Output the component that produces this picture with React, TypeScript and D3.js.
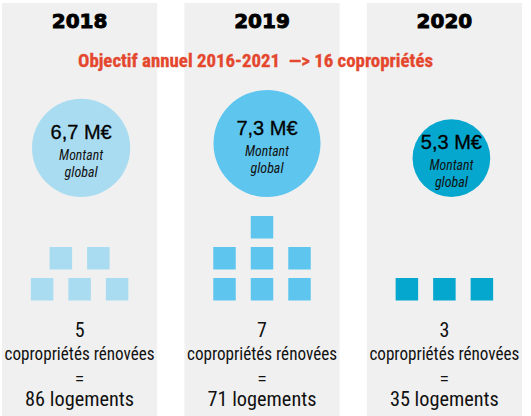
import * as d3 from 'd3';
import React from 'react';

// Chart data
const years = ['2018', '2019', '2020'];
const montants = [6.7, 7.3, 5.3]; // M€
const coproprietes = [5, 7, 3];
const logements = [86, 71, 35];
const objectif = 'Objectif annuel 2016-2021  —> 16 copropriétés';

const W = 531;
const H = 416;
const circleColors = ['#aadcf1', '#5ec6ee', '#05a7cf'];
const narrow = "'Liberation Sans Narrow', 'Roboto Condensed', Roboto, sans-serif";

const frLocale = d3.formatLocale({
  decimal: ',',
  thousands: ' ',
  grouping: [3],
  currency: ['', ' €'],
});
const fmt = frLocale.format('.1f');

// lay squares out as a pyramid: rows of 3 from the bottom, remainder on top
const pyramid = (n: number) => {
  const rows: number[] = [];
  let left = n;
  while (left > 0) {
    rows.push(Math.min(3, left));
    left -= 3;
  }
  const cells: { row: number; col: number; count: number }[] = [];
  rows.forEach((count, row) => {
    for (let col = 0; col < count; col++) cells.push({ row, col, count });
  });
  return cells;
};

const App = () => {
  const x = d3
    .scaleBand<string>()
    .domain(years)
    .range([2, 522])
    .paddingInner(0.149)
    .paddingOuter(0);

  const r = d3.scaleLinear().domain([0, d3.max(montants) || 1]).range([0, 53.5]);

  const circleBase = 197;
  const circleDx = [1.5, 5, 7];
  const sq = 22.5;
  const sqStepX = 37.5;
  const sqStepY = 31;
  const sqBottom = 278;

  return (
    <svg
      width={W}
      height={H}
      style={{ position: 'absolute', left: 0, top: 0, display: 'block', background: '#fff' }}
    >
      {years.map((year, i) => {
        const x0 = x(year) || 0;
        const cx = x0 + x.bandwidth() / 2;
        const rad = r(montants[i]);
        const ccx = cx + circleDx[i];
        const ccy = circleBase - rad;
        return (
          <g key={year}>
            <rect x={x0} y={3} width={x.bandwidth()} height={413} fill="#f0f0f0" />
            <text
              x={cx}
              y={28}
              textAnchor="middle"
              fontFamily="'DejaVu Sans', sans-serif"
              fontWeight="bold"
              fontSize={20}
              fill="#000"
              stroke="#000"
              strokeWidth={0.9}
            >
              {year}
            </text>

            <circle cx={ccx} cy={ccy} r={rad} fill={circleColors[i]} />
            <text
              x={ccx}
              y={ccy - 9}
              textAnchor="middle"
              fontFamily="'Liberation Sans', Arial, sans-serif"
              fontSize={20}
              fill="#000"
              stroke="#000"
              strokeWidth={0.3}
            >
              {`${fmt(montants[i])} M€`}
            </text>
            <text
              x={ccx}
              y={ccy + 12}
              textAnchor="middle"
              fontFamily={narrow}
              fontStyle="italic"
              fontSize={15}
              fill="#111"
              textLength={44}
              lengthAdjust="spacingAndGlyphs"
            >
              Montant
            </text>
            <text
              x={ccx}
              y={ccy + 29}
              textAnchor="middle"
              fontFamily={narrow}
              fontStyle="italic"
              fontSize={15}
              fill="#111"
              textLength={33}
              lengthAdjust="spacingAndGlyphs"
            >
              global
            </text>

            {pyramid(coproprietes[i]).map((c, k) => (
              <rect
                key={k}
                x={cx + (c.col - (c.count - 1) / 2) * sqStepX - sq / 2}
                y={sqBottom - c.row * sqStepY}
                width={sq}
                height={sq}
                fill={circleColors[i]}
              />
            ))}

            <text x={cx} y={337} textAnchor="middle" fontFamily={narrow} fontSize={20} fill="#111">
              {coproprietes[i]}
            </text>
            <text
              x={cx}
              y={360}
              textAnchor="middle"
              fontFamily={narrow}
              fontSize={18.5}
              fill="#111"
              textLength={150}
              lengthAdjust="spacingAndGlyphs"
            >
              copropriétés rénovées
            </text>
            <text
              x={cx}
              y={384}
              textAnchor="middle"
              fontFamily="'Liberation Sans', sans-serif"
              fontSize={14}
              fill="#111"
            >
              =
            </text>
            <text
              x={cx}
              y={406}
              textAnchor="middle"
              fontFamily={narrow}
              fontSize={20}
              fill="#111"
              textLength={109}
              lengthAdjust="spacingAndGlyphs"
            >
              {`${logements[i]} logements`}
            </text>
          </g>
        );
      })}

      <text
        x={255.5}
        y={67}
        textAnchor="middle"
        fontFamily={narrow}
        fontWeight="bold"
        fontSize={19}
        fill="#e4472d"
        stroke="#e4472d"
        strokeWidth={0.3}
        textLength={355}
        lengthAdjust="spacingAndGlyphs"
        style={{ whiteSpace: 'pre' }}
      >
        {objectif}
      </text>
    </svg>
  );
};

export default App;
